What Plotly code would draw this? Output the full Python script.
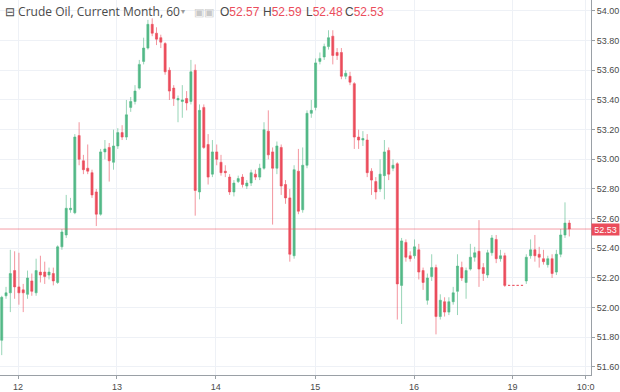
import plotly.graph_objects as go

# ---- data (hourly candles) ----
bar_index = list(range(1, 134))

opens = [51.78, 52.08, 52.10, 52.25, 52.14, 52.12, 52.09, 52.18, 52.10, 52.24,
         52.24, 52.22, 52.23, 52.17, 52.41, 52.49, 52.66, 52.64, 53.16, 52.99,
         52.94, 52.91, 52.78, 52.63, 53.05, 53.08, 52.98, 53.09, 53.18, 53.15,
         53.35, 53.39, 53.48, 53.66, 53.75, 53.91, 53.85, 53.82, 53.78, 53.60,
         53.48, 53.40, 53.39, 53.41, 53.39, 53.60, 52.78, 53.35, 53.10, 52.90,
         53.05, 52.98, 52.92, 52.88, 52.78, 52.85, 52.88, 52.82, 52.84, 52.90,
         52.88, 52.94, 53.19, 53.05, 52.94, 53.08, 52.83, 52.74, 52.35, 52.92,
         52.66, 52.96, 53.31, 53.35, 53.66, 53.69, 53.76, 53.83, 53.72, 53.72,
         53.56, 53.56, 53.51, 53.15, 53.13, 53.13, 52.92, 52.85, 52.80, 52.89,
         53.06, 52.94, 52.97, 52.15, 52.44, 52.35, 52.35, 52.39, 52.25, 52.05,
         52.21, 52.27, 51.94, 52.04, 51.97, 52.04, 52.11, 52.27, 52.17, 52.26,
         52.34, 52.38, 52.27, 52.22, 52.37, 52.46, 52.33, 52.35, 52.15, 52.15,
         52.15, 52.15, 52.18, 52.35, 52.39, 52.36, 52.33, 52.29, 52.33, 52.24,
         52.36, 52.49, 52.57]

highs = [52.08, 52.14, 52.39, 52.38, 52.37, 52.16, 52.25, 52.23, 52.33, 52.35,
         52.31, 52.27, 52.27, 52.42, 52.53, 52.76, 52.74, 53.17, 53.25, 53.03,
         53.10, 52.93, 52.80, 53.07, 53.13, 53.11, 53.20, 53.21, 53.23, 53.40,
         53.42, 53.50, 53.67, 53.82, 53.94, 53.95, 53.89, 53.84, 53.79, 53.62,
         53.50, 53.43, 53.50, 53.46, 53.67, 53.64, 53.37, 53.37, 53.17, 53.13,
         53.10, 53.03, 52.96, 52.90, 52.86, 52.89, 52.90, 52.86, 52.93, 52.93,
         52.97, 53.25, 53.33, 53.08, 53.12, 53.10, 52.86, 52.80, 52.96, 53.07,
         53.08, 53.33, 53.40, 53.68, 53.72, 53.78, 53.87, 53.87, 53.75, 53.75,
         53.60, 53.59, 53.52, 53.20, 53.19, 53.17, 52.94, 52.88, 53.00, 53.13,
         53.08, 53.00, 52.98, 52.47, 52.46, 52.38, 52.46, 52.43, 52.27, 52.23,
         52.36, 52.29, 52.09, 52.07, 52.07, 52.14, 52.36, 52.31, 52.27, 52.43,
         52.41, 52.59, 52.30, 52.39, 52.49, 52.49, 52.39, 52.37, 52.15, 52.15,
         52.15, 52.15, 52.36, 52.46, 52.49, 52.41, 52.39, 52.35, 52.36, 52.39,
         52.53, 52.71, 52.59]

lows = [51.68, 52.06, 51.97, 52.06, 52.02, 51.97, 52.06, 52.08, 52.08, 52.17,
        52.16, 52.19, 52.15, 52.16, 52.39, 52.47, 52.64, 52.63, 52.96, 52.90,
        52.90, 52.74, 52.55, 52.62, 53.00, 52.85, 52.93, 53.07, 53.13, 53.13,
        53.32, 53.37, 53.47, 53.64, 53.74, 53.83, 53.77, 53.75, 53.57, 53.40,
        53.36, 53.25, 53.28, 53.33, 53.37, 52.62, 52.73, 53.07, 52.83, 52.88,
        52.96, 52.89, 52.88, 52.76, 52.75, 52.84, 52.81, 52.80, 52.82, 52.86,
        52.86, 52.93, 53.00, 52.56, 52.90, 52.76, 52.70, 52.31, 52.33, 52.63,
        52.64, 52.94, 53.28, 53.33, 53.64, 53.67, 53.74, 53.64, 53.67, 53.54,
        53.54, 53.50, 53.07, 53.07, 53.09, 52.88, 52.76, 52.73, 52.78, 52.73,
        52.86, 52.92, 51.92, 51.89, 52.31, 52.31, 52.33, 52.19, 52.12, 52.02,
        52.18, 51.82, 51.92, 51.94, 51.95, 52.02, 51.95, 52.18, 52.06, 52.25,
        52.31, 52.14, 52.18, 52.20, 52.35, 52.30, 52.31, 52.14, 52.15, 52.15,
        52.15, 52.15, 52.16, 52.33, 52.31, 52.27, 52.29, 52.27, 52.20, 52.22,
        52.34, 52.47, 52.48]

closes = [52.07, 52.10, 52.23, 52.14, 52.10, 52.10, 52.20, 52.11, 52.25, 52.22,
          52.21, 52.24, 52.18, 52.41, 52.51, 52.67, 52.67, 53.15, 53.00, 52.93,
          52.92, 52.76, 52.63, 53.05, 53.07, 52.99, 53.09, 53.18, 53.15, 53.30,
          53.39, 53.46, 53.64, 53.75, 53.91, 53.85, 53.81, 53.79, 53.59, 53.46,
          53.41, 53.41, 53.40, 53.38, 53.59, 52.79, 53.33, 53.08, 52.88, 53.05,
          53.00, 52.91, 52.91, 52.78, 52.84, 52.87, 52.83, 52.84, 52.91, 52.88,
          52.94, 53.20, 53.03, 52.94, 53.09, 52.82, 52.74, 52.36, 52.93, 52.65,
          52.96, 53.31, 53.33, 53.65, 53.68, 53.76, 53.82, 53.70, 53.70, 53.56,
          53.58, 53.52, 53.15, 53.13, 53.14, 52.91, 52.86, 52.78, 52.90, 53.05,
          52.90, 52.96, 52.16, 52.45, 52.34, 52.33, 52.41, 52.24, 52.17, 52.20,
          52.27, 51.94, 52.05, 51.97, 52.04, 52.10, 52.28, 52.20, 52.25, 52.34,
          52.37, 52.26, 52.23, 52.37, 52.47, 52.33, 52.35, 52.15, 52.15, 52.15,
          52.15, 52.15, 52.34, 52.39, 52.35, 52.34, 52.31, 52.33, 52.23, 52.36,
          52.49, 52.57, 52.53]

tick_positions = [4.8, 27.8, 50.8, 73.9, 96.9, 119.8, 136.8]
tick_labels = ["12", "13", "14", "15", "16", "19", "10:0"]

title_text = "Crude Oil, Current Month, 60"
ohlc_letters = ["O", "H", "L", "C"]

# ---- styling ----
GREEN = "#53b987"
RED = "#eb4d5c"
GRID = "#eef1f6"
AXIS = "#9aa0a6"
TXT = "#4a4a4a"
FONT = "Liberation Sans, Arial, sans-serif"
PLOT_H = 377
PLOT_W = 591

fig = go.Figure()
fig.add_trace(go.Candlestick(
    x=bar_index, open=opens, high=highs, low=lows, close=closes,
    increasing=dict(line=dict(color=GREEN, width=0.6), fillcolor=GREEN),
    decreasing=dict(line=dict(color=RED, width=0.6), fillcolor=RED),
    whiskerwidth=0, showlegend=False, hoverinfo="skip",
))

last_vals = [opens[-1], highs[-1], lows[-1], closes[-1]]
last_c = closes[-1]

fig.add_hline(y=last_c, line=dict(color="rgba(235,77,92,0.55)", width=1))

fig.add_annotation(
    x=1, xref="paper", y=last_c, yref="y", xanchor="left", yanchor="middle",
    text=f"{last_c:.2f}", showarrow=False, bgcolor=RED, width=27, height=11,
    font=dict(color="white", size=9, family=FONT), borderpad=0,
)

head_y = 1 - 12 / PLOT_H
fig.add_annotation(
    x=3 / PLOT_W, xref="paper", y=head_y, yref="paper",
    yanchor="middle", xanchor="left", showarrow=False,
    text=f"⊟ {title_text}",
    font=dict(color=TXT, size=12, family="Open Sans, sans-serif"),
)
fig.add_annotation(
    x=179 / PLOT_W, xref="paper", y=head_y, yref="paper",
    yanchor="middle", xanchor="left", showarrow=False,
    text="▾", font=dict(color="#9a9a9a", size=8, family=FONT),
)
fig.add_annotation(
    x=192 / PLOT_W, xref="paper", y=head_y, yref="paper", yanchor="middle", xanchor="left",
    showarrow=False, text="▣▣", font=dict(color="#c8c8c8", size=11, family=FONT),
)
ohlc_x = [218, 261, 304, 343]
for px, letter, val in zip(ohlc_x, ohlc_letters, last_vals):
    fig.add_annotation(
        x=px / PLOT_W, xref="paper", y=head_y, yref="paper", yanchor="middle", xanchor="left",
        showarrow=False, text=f"{letter}<span style='color:{RED}'>{val:.2f}</span>",
        font=dict(color=TXT, size=12, family=FONT),
    )

fig.update_layout(
    width=620, height=392,
    margin=dict(l=0, r=29, t=0, b=15),
    paper_bgcolor="white", plot_bgcolor="white",
    font=dict(family=FONT, color=TXT),
    showlegend=False,
    xaxis=dict(
        range=[0.6, 138.05], tickvals=tick_positions, ticktext=tick_labels,
        showgrid=True, gridcolor=GRID, gridwidth=1, zeroline=False,
        showline=True, linecolor=AXIS, linewidth=1,
        ticks="outside", ticklen=3, tickcolor=AXIS,
        tickfont=dict(size=9, color=TXT, family=FONT),
        rangeslider=dict(visible=False), fixedrange=True,
    ),
    yaxis=dict(
        side="right", range=[51.546, 54.074], tick0=51.6, dtick=0.2,
        tickformat=".2f", showgrid=True, gridcolor=GRID, gridwidth=1,
        zeroline=False, showline=True, linecolor=AXIS, linewidth=1,
        ticks="outside", ticklen=3, tickcolor=AXIS,
        tickfont=dict(size=9, color=TXT, family=FONT), fixedrange=True,
    ),
)

fig.write_html(
    "out.html",
    config={"displayModeBar": False},
    post_script="document.body.style.margin='0px';document.body.style.overflow='hidden';",
)
